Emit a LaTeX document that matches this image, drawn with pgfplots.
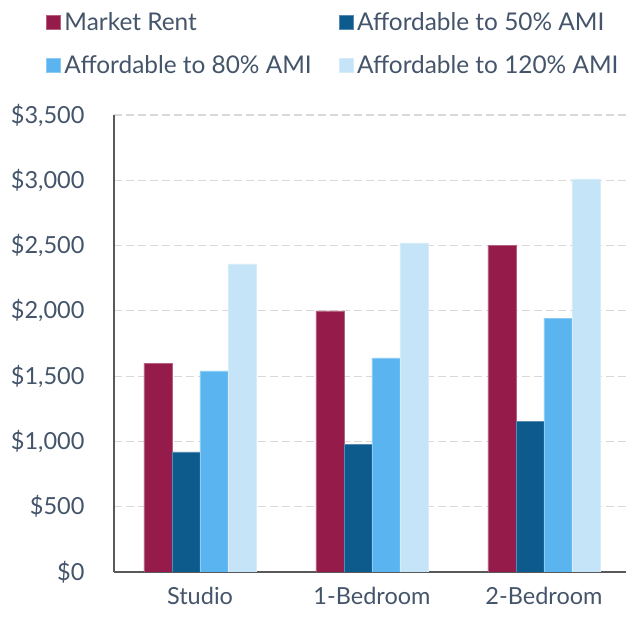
\documentclass[border=0pt]{standalone}
\usepackage{pgfplots}
\pgfplotsset{compat=1.18}
\usetikzlibrary{calc}
\usepackage{fontspec}
\setmainfont{Lato}
\definecolor{cMR}{RGB}{149,27,75}
\definecolor{c50}{RGB}{13,90,140}
\definecolor{c80}{RGB}{90,180,240}
\definecolor{c120}{RGB}{198,228,247}
\definecolor{txt}{RGB}{68,84,106}
\definecolor{gridc}{RGB}{217,217,217}
\definecolor{axc}{RGB}{89,89,89}
\begin{document}
\begin{tikzpicture}
\begin{axis}[
  scale only axis,
  width=512pt, height=457pt,
  font=\fontsize{23.5}{28}\selectfont,
  ybar=0pt, bar width=28pt,
  xmin=-0.5, xmax=2.477,
  ymin=0, ymax=3500,
  ytick={0,500,...,3500},
  xtick=data,
  xticklabels={Studio,1-Bedroom,2-Bedroom},
  axis x line*=bottom, axis y line*=left,
  axis line style={axc, line width=1.5pt, -},
  major tick length=0pt,
  ymajorgrids,
  grid style={gridc, dashed, line width=1.2pt, dash pattern=on 8pt off 4pt},
  /pgf/number format/assume math mode=true,
  /pgf/number format/.cd, 1000 sep={,}, fixed, precision=0,
  /pgfplots/.cd,
  yticklabel={\$\pgfmathprintnumber{\tick}},
  ticklabel style={txt},
  yticklabel style={xshift=-26pt},
  xticklabel style={yshift=-12pt},
  legend columns=2,
  legend cell align=left,
  legend style={draw=none, fill=none, text=txt, font=\fontsize{24.4}{29}\selectfont,
    at={($(axis description cs:0,1)+(-68pt,105pt)$)}, anchor=north west,
    /tikz/every odd column/.append style={column sep=2pt},
    /tikz/every even column/.append style={column sep=25pt},
    nodes={inner sep=2pt},
    row sep=20pt, inner sep=0pt},
  legend image code/.code={\fill[#1] (0pt,-7pt) rectangle (14pt,7pt);},
]
\addplot[fill=cMR, draw=cMR!70!white, line width=0.3pt] coordinates {(0,1600) (1,2000) (2,2500)};
\addplot[fill=c50, draw=c50!70!white, line width=0.3pt] coordinates {(0,920) (1,980) (2,1155)};
\addplot[fill=c80, draw=c80!70!white, line width=0.3pt] coordinates {(0,1540) (1,1640) (2,1945)};
\addplot[fill=c120, draw=c120!70!white, line width=0.3pt] coordinates {(0,2360) (1,2520) (2,3010)};
\legend{Market Rent,Affordable to 50\% AMI,Affordable to 80\% AMI,Affordable to 120\% AMI}
\end{axis}
\pgfresetboundingbox
\path ($(current axis.south west)+(-114pt,-45pt)$) rectangle ($(current axis.north east)+(0pt,115pt)$);
\end{tikzpicture}
\end{document}
